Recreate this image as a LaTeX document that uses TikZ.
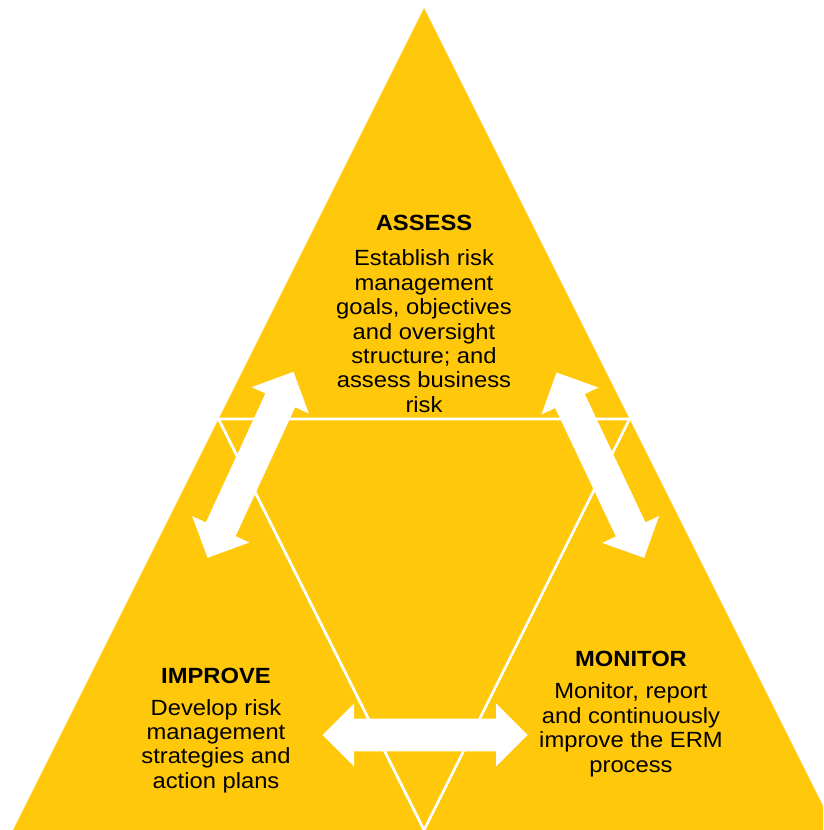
\documentclass[tikz,border=0pt]{standalone}
\usepackage{fontspec}
\setmainfont{Liberation Sans}[FakeStretch=1.08]
\definecolor{tri}{RGB}{255,200,10}
\tikzset{
  dblarrow/.pic={
    \fill[white] (-102.5,0) -- (-71,31.5) -- (-71,16.4) -- (71,16.4) -- (71,31.5)
      -- (102.5,0) -- (71,-31.5) -- (71,-16.4) -- (-71,-16.4) -- (-71,-31.5) -- cycle;
  },
  divline/.style={white, line width=2.7pt},
  ttl/.style={anchor=base, inner sep=0pt, font=\fontsize{22}{24.4}\selectfont\bfseries},
  body/.style={anchor=north, inner sep=0pt, align=center, font=\fontsize{22}{24.4}\selectfont},
}
\begin{document}
\begin{tikzpicture}[x=1pt, y=-1pt]
\useasboundingbox (0,0) rectangle (823,830);
\begin{scope}
\clip (0,0) rectangle (823,830);
\coordinate (top) at (424,8);
\coordinate (bl) at (13,830);
\coordinate (br) at (835,830);
\coordinate (ml) at (218.5,419);
\coordinate (mr) at (629.5,419);
\coordinate (mb) at (424,830);
\fill[tri] (top) -- (br) -- (bl) -- cycle;
\draw[divline] (ml) -- (mr) -- (mb) -- cycle;
\end{scope}
\pic[rotate=65.2] at (250.5,464.8) {dblarrow};
\pic[rotate=-64.7] at (600.3,465.2) {dblarrow};
\pic at (425.2,735) {dblarrow};
\node[ttl] (assessT) at (424,230.7) {ASSESS};
\node[body] (assessB) at (424,249.7) {Establish risk\\management\\goals, objectives\\and oversight\\structure; and\\assess business\\risk};
\node[ttl] (improveT) at (216,683.3) {IMPROVE};
\node[body] (improveB) at (216,699) {Develop risk\\management\\strategies and\\action plans};
\node[ttl] (monitorT) at (631,666.7) {MONITOR};
\node[body] (monitorB) at (631,682.7) {Monitor, report\\and continuously\\improve the ERM\\process};
\end{tikzpicture}
\end{document}
